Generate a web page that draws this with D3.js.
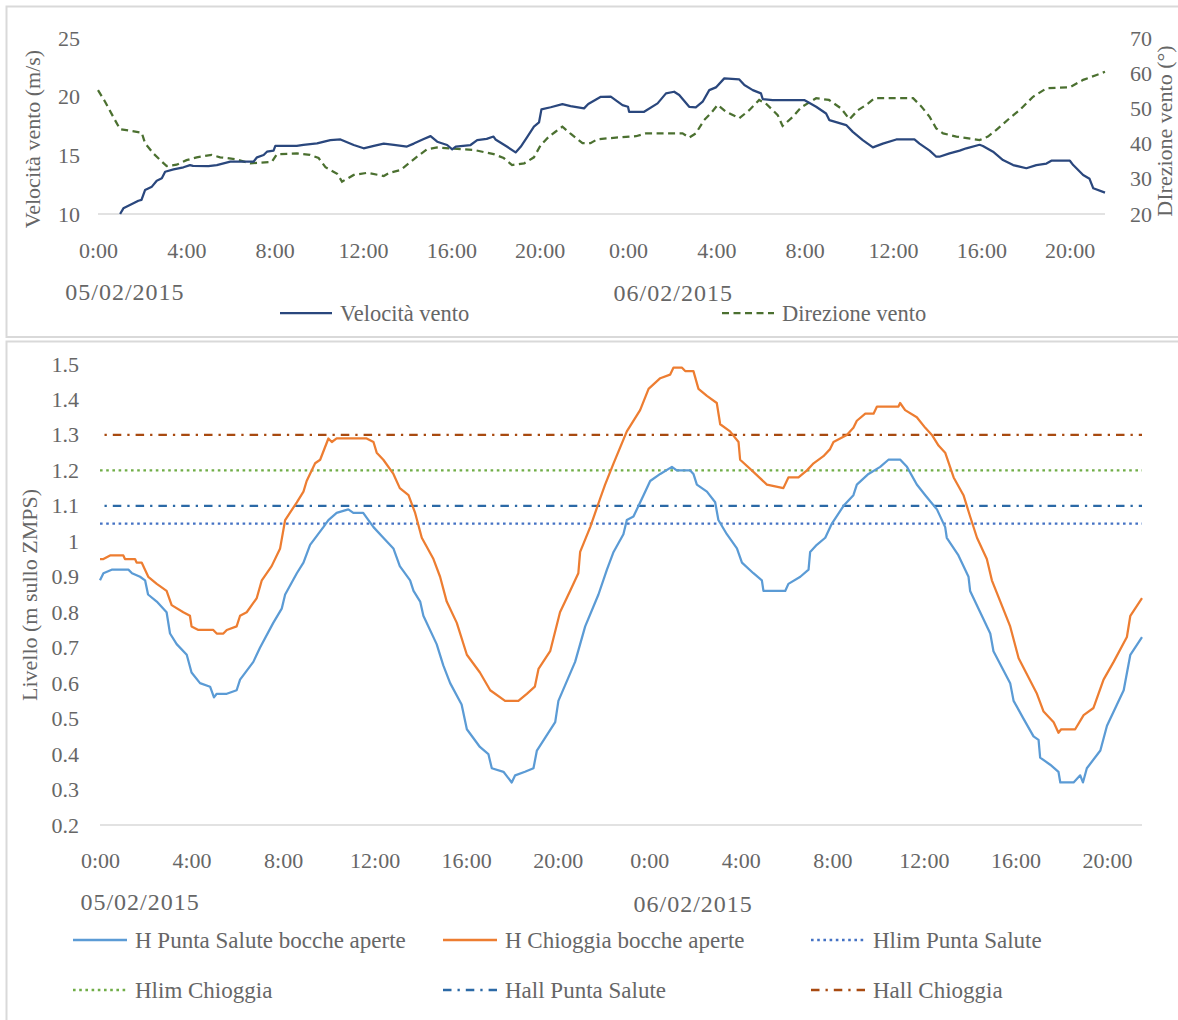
<!DOCTYPE html>
<html>
<head>
<meta charset="utf-8">
<script src="https://cdn.jsdelivr.net/npm/d3@7"></script>
<style>
  html, body { margin: 0; padding: 0; background: #fff; }
  svg text { font-family: "Liberation Serif", "Times New Roman", serif; fill: #666666; }
</style>
</head>
<body>
<svg id="chart" width="1178" height="1020"></svg>
<script>
// ---- Wind (top panel): hours from 05/02/2015 00:00 ----
const velocitaVento = [
  [1.0,10.0],[1.15,10.48],[1.83,11.13],[1.97,11.2],[2.13,12.04],[2.44,12.33],[2.66,12.84],[2.89,13.04],
  [3.04,13.6],[3.42,13.8],[3.87,13.98],[4.17,14.17],[4.3,14.1],[5.0,14.08],[5.38,14.17],[5.99,14.46],
  [7.04,14.46],[7.2,14.83],[7.5,15.03],[7.65,15.31],[7.95,15.4],[8.03,15.8],[9.0,15.8],[9.3,15.9],
  [9.92,16.02],[10.52,16.3],[10.98,16.35],[11.58,15.88],[12.03,15.6],[12.49,15.8],[12.94,16.0],[13.4,15.9],
  [13.99,15.75],[14.3,16.0],[14.75,16.39],[15.06,16.64],[15.36,16.16],[15.81,15.88],[16.04,15.51],[16.2,15.75],
  [16.87,15.88],[17.17,16.3],[17.6,16.4],[17.91,16.6],[18.0,16.35],[18.53,15.73],[18.91,15.25],[19.14,15.73],
  [19.44,16.58],[19.74,17.44],[19.97,17.8],[20.08,18.92],[20.5,19.1],[21.03,19.37],[21.4,19.2],[22.01,19.0],
  [22.2,19.37],[22.77,19.99],[23.22,20.0],[23.75,19.28],[24.0,19.14],[24.05,18.71],[24.73,18.71],[25.34,19.43],
  [25.72,20.28],[26.09,20.42],[26.32,20.14],[26.77,19.14],[27.07,19.09],[27.38,19.57],[27.68,20.56],[27.98,20.79],
  [28.36,21.56],[29.04,21.47],[29.27,20.99],[29.65,20.56],[30.02,20.28],[30.1,19.8],[30.55,19.71],[31.98,19.71],
  [32.52,19.14],[32.97,18.57],[33.12,18.0],[33.88,17.58],[34.18,17.0],[34.63,16.3],[35.09,15.68],[35.54,16.0],
  [36.15,16.35],[36.97,16.35],[37.2,16.0],[37.66,15.4],[37.96,14.88],[38.1,14.88],[38.56,15.17],[39.02,15.4],
  [39.32,15.6],[39.92,15.9],[40.07,15.8],[40.53,15.31],[40.98,14.6],[41.44,14.17],[42.04,13.9],[42.49,14.17],
  [42.95,14.3],[43.17,14.54],[44.01,14.54],[44.16,14.17],[44.61,13.32],[44.9,13.0],[45.07,12.19],[45.6,11.82]
];
const direzioneVento = [
  [0,55.2],[0.32,51.9],[0.69,47.6],[1.0,44.1],[1.98,43.1],[2.13,40.1],[2.51,37.2],[2.89,34.9],[3.11,33.6],
  [3.56,34.0],[4.01,35.3],[4.47,36.1],[5.15,36.8],[5.53,36.1],[6.2,35.6],[6.89,34.4],[7.87,34.8],[8.1,37.0],
  [9.01,37.2],[9.6,36.8],[9.99,35.9],[10.3,33.3],[10.83,31.4],[11.05,29.2],[11.58,31.1],[12.19,31.7],
  [12.94,30.8],[13.2,31.7],[13.7,32.5],[14.0,34.0],[14.45,36.3],[14.9,38.4],[15.36,38.9],[17.02,38.2],
  [17.92,37.0],[18.37,35.9],[18.75,33.9],[19.3,34.4],[19.74,36.1],[20.05,39.6],[20.42,42.0],[20.7,43.3],
  [21.03,44.8],[21.4,42.8],[21.94,40.1],[22.3,40.1],[22.6,41.2],[23.45,41.7],[24.36,42.1],[24.81,42.9],
  [26.47,42.9],[26.77,41.7],[27.07,42.9],[27.45,46.7],[27.75,48.6],[28.06,51.0],[28.43,49.1],[29.04,47.2],
  [29.49,49.5],[29.94,52.4],[30.24,51.4],[30.78,48.1],[31.0,45.0],[31.46,47.6],[31.84,50.3],[32.52,52.9],
  [33.1,52.4],[33.65,50.0],[34.03,46.9],[34.41,49.5],[34.79,51.0],[35.17,52.9],[36.91,52.9],[37.29,50.5],
  [37.66,47.6],[37.96,44.3],[38.27,42.9],[38.87,42.0],[39.92,41.0],[40.3,42.0],[40.68,43.9],[41.28,47.2],
  [41.73,49.5],[42.34,53.3],[42.95,55.7],[44.01,56.0],[44.61,58.1],[45.22,59.5],[45.6,60.4]
];

// ---- Water levels (bottom panel), m on ZMPS ----
const hPuntaSalute = [
  [0,0.89],[0.15,0.91],[0.51,0.92],[1.24,0.92],[1.4,0.91],[1.75,0.9],[1.97,0.89],[2.1,0.85],[2.48,0.83],
  [2.91,0.8],[3.06,0.74],[3.35,0.71],[3.79,0.68],[4.0,0.63],[4.37,0.6],[4.81,0.59],[4.98,0.56],[5.1,0.57],
  [5.54,0.57],[5.97,0.58],[6.12,0.61],[6.7,0.66],[6.99,0.7],[7.57,0.77],[7.94,0.81],[8.09,0.85],[8.6,0.91],
  [8.89,0.94],[9.18,0.99],[9.76,1.04],[9.98,1.06],[10.34,1.08],[10.85,1.09],[11.07,1.08],[11.5,1.08],
  [11.95,1.04],[12.38,1.01],[12.82,0.98],[13.1,0.93],[13.55,0.89],[13.7,0.86],[13.99,0.83],[14.13,0.79],
  [14.71,0.71],[15.0,0.65],[15.3,0.6],[15.8,0.54],[16.03,0.47],[16.6,0.42],[16.97,0.4],[17.12,0.36],
  [17.63,0.35],[17.99,0.32],[18.14,0.34],[18.57,0.35],[18.94,0.36],[19.09,0.41],[19.89,0.49],[20.03,0.55],
  [20.76,0.66],[21.2,0.76],[21.78,0.85],[22.15,0.92],[22.44,0.97],[22.87,1.02],[23.02,1.06],[23.31,1.07],
  [23.75,1.13],[24.04,1.17],[24.48,1.19],[24.99,1.21],[25.2,1.2],[25.79,1.2],[25.93,1.19],[26.08,1.16],
  [26.52,1.14],[26.88,1.11],[27.02,1.06],[27.39,1.02],[27.83,0.98],[28.05,0.94],[28.55,0.91],[28.92,0.89],
  [28.99,0.86],[29.94,0.86],[30.08,0.88],[30.6,0.9],[30.96,0.92],[31.03,0.97],[31.32,0.99],[31.69,1.01],
  [31.98,1.05],[32.49,1.1],[32.92,1.13],[33.07,1.16],[33.58,1.19],[34.09,1.21],[34.45,1.23],[34.97,1.23],
  [35.26,1.21],[35.69,1.16],[36.06,1.13],[36.57,1.09],[36.93,1.04],[37.0,1.01],[37.51,0.96],[37.95,0.9],
  [38.02,0.86],[38.46,0.8],[38.9,0.74],[39.04,0.69],[39.77,0.6],[39.92,0.55],[40.35,0.5],[40.79,0.45],
  [41.01,0.44],[41.08,0.39],[41.52,0.37],[41.88,0.35],[41.96,0.32],[42.54,0.32],[42.83,0.34],[42.95,0.32],
  [43.12,0.36],[43.71,0.41],[44.0,0.48],[44.73,0.58],[45.02,0.68],[45.53,0.73]
];
const hChioggia = [
  [0,0.95],[0.15,0.95],[0.44,0.96],[1.02,0.96],[1.09,0.95],[1.53,0.95],[1.6,0.94],[1.82,0.94],[2.11,0.9],
  [2.48,0.88],[2.91,0.86],[3.13,0.82],[3.64,0.8],[3.93,0.79],[4.0,0.76],[4.3,0.75],[4.95,0.75],[5.1,0.74],
  [5.39,0.74],[5.54,0.75],[5.97,0.76],[6.12,0.79],[6.41,0.8],[6.85,0.84],[7.07,0.89],[7.5,0.93],[7.87,0.98],
  [8.09,1.06],[8.6,1.11],[8.89,1.14],[9.03,1.17],[9.4,1.22],[9.62,1.23],[9.98,1.29],[10.13,1.28],[10.34,1.29],
  [11.65,1.29],[11.95,1.28],[12.09,1.25],[12.38,1.23],[12.82,1.19],[13.1,1.15],[13.48,1.13],[13.77,1.08],
  [14.06,1.01],[14.57,0.95],[14.86,0.9],[15.15,0.83],[15.59,0.77],[16.03,0.68],[16.6,0.63],[17.05,0.58],
  [17.7,0.55],[18.28,0.55],[18.65,0.57],[19.0,0.59],[19.16,0.64],[19.67,0.69],[20.1,0.8],[20.54,0.86],
  [20.9,0.91],[20.98,0.97],[21.42,1.04],[21.85,1.12],[22.07,1.16],[22.44,1.22],[23.02,1.31],[23.6,1.37],
  [23.97,1.43],[24.48,1.46],[24.91,1.47],[25.06,1.49],[25.42,1.49],[25.57,1.48],[25.93,1.48],[26.15,1.43],
  [26.52,1.41],[26.95,1.39],[27.1,1.33],[27.53,1.31],[27.9,1.28],[27.97,1.23],[28.48,1.2],[29.14,1.16],
  [29.86,1.15],[30.08,1.18],[30.52,1.18],[30.89,1.2],[31.18,1.22],[31.61,1.24],[31.9,1.26],[32.05,1.28],
  [32.63,1.3],[32.92,1.32],[33.07,1.34],[33.44,1.36],[33.8,1.36],[33.95,1.38],[34.89,1.38],[34.96,1.39],
  [35.18,1.37],[35.69,1.35],[36.06,1.32],[36.35,1.3],[36.64,1.27],[36.93,1.25],[37.3,1.18],[37.73,1.13],
  [38.02,1.07],[38.32,1.01],[38.75,0.95],[38.97,0.89],[39.34,0.83],[39.77,0.76],[40.14,0.67],[40.94,0.57],
  [41.23,0.52],[41.67,0.49],[41.88,0.46],[42.0,0.47],[42.61,0.47],[42.98,0.51],[43.41,0.53],[43.85,0.61],
  [44.29,0.66],[44.87,0.73],[45.02,0.79],[45.53,0.84]
];
// Threshold levels (m)
const hlimPuntaSalute = 1.05;
const hlimChioggia = 1.2;
const hallPuntaSalute = 1.1;
const hallChioggia = 1.3;

// Axis ticks and labels
const speedTicks = [10, 15, 20, 25];
const dirTicks = [20, 30, 40, 50, 60, 70];
const levelTicks = [0.2, 0.3, 0.4, 0.5, 0.6, 0.7, 0.8, 0.9, 1.0, 1.1, 1.2, 1.3, 1.4, 1.5];
const hourTicks = [0, 4, 8, 12, 16, 20, 24, 28, 32, 36, 40, 44];
const dayLabels = ["05/02/2015", "06/02/2015"];
const hourLabel = h => (h % 24) + ":00";

const svg = d3.select("#chart");
const FONT = 22;
const GRID = "#d9d9d9";
const TEXT = "#666666";

// panel frames
svg.append("rect").attr("x", 6.5).attr("y", 6.5).attr("width", 1180).attr("height", 330.5)
  .attr("fill", "none").attr("stroke", GRID).attr("stroke-width", 2);
svg.append("rect").attr("x", 6.5).attr("y", 341.5).attr("width", 1180).attr("height", 700)
  .attr("fill", "none").attr("stroke", GRID).attr("stroke-width", 2);

function styleAxis(g) {
  g.select(".domain").remove();
  g.selectAll("text").attr("font-size", FONT).attr("fill", TEXT)
    .attr("font-family", "Liberation Serif, serif");
}

function dateLabel(x, y, txt) {
  svg.append("text").attr("x", x).attr("y", y).attr("dy", "0.35em")
    .attr("text-anchor", "middle").attr("font-size", 24).attr("letter-spacing", 1)
    .attr("font-family", "Liberation Serif, serif").text(txt);
}

// ================= TOP: wind =================
const xTop = d3.scaleLinear().domain([0, 45.6]).range([98, 1105]);
const ySpeed = d3.scaleLinear().domain([10, 25]).range([214, 38]);
const yDir = d3.scaleLinear().domain([20, 70]).range([214, 38]);

svg.append("line").attr("x1", xTop(0)).attr("x2", xTop(45.6))
  .attr("y1", ySpeed(10)).attr("y2", ySpeed(10)).attr("stroke", GRID).attr("stroke-width", 1.5);

svg.append("g").attr("transform", `translate(${xTop(0)},0)`)
  .call(d3.axisLeft(ySpeed).tickValues(speedTicks).tickSize(0).tickPadding(18)).call(styleAxis);
svg.append("g").attr("transform", `translate(${xTop(45.6)},0)`)
  .call(d3.axisRight(yDir).tickValues(dirTicks).tickSize(0).tickPadding(25)).call(styleAxis);
svg.append("g").attr("transform", `translate(0,${ySpeed(10)})`)
  .call(d3.axisBottom(xTop).tickValues(hourTicks).tickFormat(hourLabel).tickSize(0).tickPadding(28))
  .call(styleAxis);

svg.append("text").attr("transform", "translate(40,139) rotate(-90)")
  .attr("text-anchor", "middle").attr("font-size", FONT).text("Velocità vento (m/s)");
svg.append("text").attr("transform", "translate(1172,131) rotate(-90)")
  .attr("text-anchor", "middle").attr("font-size", FONT).text("DIrezione vento (°)");

dateLabel(xTop(1.22), 292, dayLabels[0]);
dateLabel(xTop(26.05), 293, dayLabels[1]);

const lineSpeed = d3.line().x(d => xTop(d[0])).y(d => ySpeed(d[1]));
const lineDir = d3.line().x(d => xTop(d[0])).y(d => yDir(d[1]));

svg.append("path").datum(direzioneVento).attr("d", lineDir).attr("fill", "none")
  .attr("stroke", "#4b7030").attr("stroke-width", 2.25).attr("stroke-dasharray", "7,4.5");
svg.append("path").datum(velocitaVento).attr("d", lineSpeed).attr("fill", "none")
  .attr("stroke", "#2a477d").attr("stroke-width", 2.25).attr("stroke-linejoin", "round");

// top legend
const topLegend = [
  { name: "Velocità vento", color: "#2a477d", dash: null, x: 280 },
  { name: "Direzione vento", color: "#4b7030", dash: "7,4.5", x: 722 }
];
topLegend.forEach(d => {
  svg.append("line").attr("x1", d.x).attr("x2", d.x + 52).attr("y1", 313).attr("y2", 313)
    .attr("stroke", d.color).attr("stroke-width", 2.25).attr("stroke-dasharray", d.dash);
  svg.append("text").attr("x", d.x + 60).attr("y", 313).attr("dy", "0.35em")
    .attr("font-size", FONT + 0.5).text(d.name);
});

// ================= BOTTOM: levels =================
const xBot = d3.scaleLinear().domain([0, 45.53]).range([100, 1142]);
const yLev = d3.scaleLinear().domain([0.2, 1.5]).range([825, 364]);

svg.append("line").attr("x1", xBot(0)).attr("x2", xBot(45.53))
  .attr("y1", yLev(0.2)).attr("y2", yLev(0.2)).attr("stroke", GRID).attr("stroke-width", 1.5);

svg.append("g").attr("transform", `translate(${xBot(0)},0)`)
  .call(d3.axisLeft(yLev).tickValues(levelTicks).tickFormat(v => String(+v.toFixed(1)))
    .tickSize(0).tickPadding(21)).call(styleAxis);
svg.append("g").attr("transform", `translate(0,${yLev(0.2)})`)
  .call(d3.axisBottom(xBot).tickValues(hourTicks).tickFormat(hourLabel).tickSize(0).tickPadding(27))
  .call(styleAxis);

svg.append("text").attr("transform", "translate(37,595) rotate(-90)")
  .attr("text-anchor", "middle").attr("font-size", FONT).text("Livello (m sullo ZMPS)");

dateLabel(xBot(1.75), 902, dayLabels[0]);
dateLabel(xBot(25.92), 904, dayLabels[1]);

const DOT = "2.6,3.6";
const DASHDOT = "8.5,6,2.3,6";
const levelSeries = [
  { name: "H Punta Salute bocche aperte", color: "#5b9bd5", dash: null, data: hPuntaSalute },
  { name: "H Chioggia bocche aperte", color: "#ed7d31", dash: null, data: hChioggia },
  { name: "Hlim Punta Salute", color: "#4472c4", dash: DOT, level: hlimPuntaSalute },
  { name: "Hlim Chioggia", color: "#70ad47", dash: DOT, level: hlimChioggia },
  { name: "Hall Punta Salute", color: "#2b69a6", dash: DASHDOT, level: hallPuntaSalute },
  { name: "Hall Chioggia", color: "#a84a10", dash: DASHDOT, level: hallChioggia }
];

const lineLev = d3.line().x(d => xBot(d[0])).y(d => yLev(d[1]));

// threshold lines first, measured series on top
levelSeries.filter(s => s.level !== undefined).forEach(s => {
  svg.append("line").attr("x1", xBot(0)).attr("x2", xBot(45.53))
    .attr("y1", yLev(s.level)).attr("y2", yLev(s.level))
    .attr("stroke", s.color).attr("stroke-width", 2.4)
    .attr("stroke-dasharray", s.dash).attr("stroke-dashoffset", s.dash === DASHDOT ? 10 : 0);
});
levelSeries.filter(s => s.data).forEach(s => {
  svg.append("path").datum(s.data).attr("d", lineLev).attr("fill", "none")
    .attr("stroke", s.color).attr("stroke-width", 2.25).attr("stroke-linejoin", "round");
});

// bottom legend (two rows of three)
const legX = [73, 443, 811];
const legY = [940, 990];
levelSeries.forEach((s, i) => {
  const x = legX[i % 3], y = legY[Math.floor(i / 3)];
  svg.append("line").attr("x1", x).attr("x2", x + 54).attr("y1", y).attr("y2", y)
    .attr("stroke", s.color).attr("stroke-width", 2.4).attr("stroke-dasharray", s.dash);
  svg.append("text").attr("x", x + 62).attr("y", y).attr("dy", "0.35em")
    .attr("font-size", 23).text(s.name);
});
</script>
</body>
</html>
